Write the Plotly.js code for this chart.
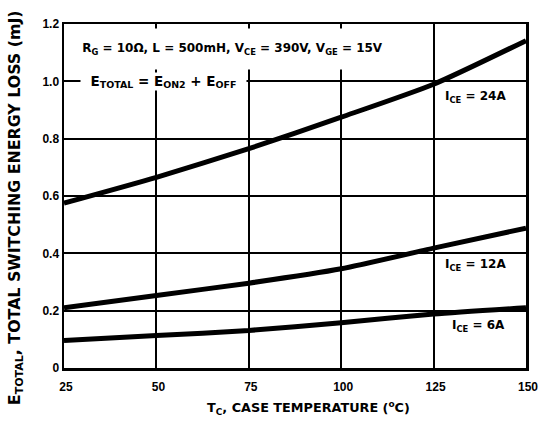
<!DOCTYPE html>
<html>
<head>
<meta charset="utf-8">
<script src="https://cdn.plot.ly/plotly-3.0.1.min.js"></script>
<style>html,body{margin:0;padding:0;background:#fff;}#chart{width:539px;height:423px;}</style>
</head>
<body>
<div id="chart"></div>
<script>
// Data
const tempC = [25, 50, 75, 100, 125, 150];
const ice24A = [0.575, 0.665, 0.765, 0.875, 0.990, 1.142];
const ice12A = [0.210, 0.253, 0.296, 0.346, 0.418, 0.488];
const ice6A  = [0.096, 0.113, 0.131, 0.158, 0.188, 0.210];
const seriesNames = ["I<sub>CE</sub> = 24A", "I<sub>CE</sub> = 12A", "I<sub>CE</sub> = 6A"];
const xTickVals = [25, 50, 75, 100, 125, 150];
const xTickText = ["25", "50", "75", "100", "125", "150"];
const yTickVals = [0, 0.2, 0.4, 0.6, 0.8, 1.0, 1.2];
const yTickText = ["0", "0.2", "0.4", "0.6", "0.8", "1.0", "1.2"];
const xTitle = "T<sub>C</sub>, CASE TEMPERATURE (<sup>o</sup>C)";
const yTitle = "E<sub>TOTAL</sub>, TOTAL SWITCHING ENERGY LOSS (mJ)";

const TICKFONT = "Liberation Sans, Arial, sans-serif";
const TEXTFONT = "DejaVu Sans, Liberation Sans, sans-serif";
const lineStyle = {color: "#000", width: 5, shape: "spline", smoothing: 0.6};

const traces = [ice24A, ice12A, ice6A].map((ys, i) => ({
  x: tempC, y: ys, type: "scatter", mode: "lines", name: seriesNames[i],
  line: lineStyle, hoverinfo: "skip"
}));

const tickBold = {family: TICKFONT, size: 12, color: "#000", weight: "bold"};
const textBold = {family: TEXTFONT, size: 12, color: "#000", weight: "bold"};

// paper-coordinate helpers for the 539x423 frame (plot area 64..525.7 x 24..367.7)
const px = v => (v - 64) / 461.7;
const py = v => (367.7 - v) / 343.7;

const layout = {
  width: 539, height: 423,
  margin: {l: 64, r: 13, t: 24, b: 55},
  paper_bgcolor: "#fff", plot_bgcolor: "#fff",
  showlegend: false,
  xaxis: {
    range: [25, 150], tickvals: xTickVals, ticktext: xTickText,
    showgrid: true, gridcolor: "#000", gridwidth: 2,
    showline: true, linecolor: "#000", linewidth: 2.5, mirror: true,
    ticks: "", zeroline: false, tickfont: tickBold, ticklabelstandoff: 6,
    ticklabelshift: 2, ticklabeloverflow: "allow"
  },
  yaxis: {
    range: [0, 1.2], tickvals: yTickVals, ticktext: yTickText,
    showgrid: true, gridcolor: "#000", gridwidth: 2,
    showline: true, linecolor: "#000", linewidth: 2.5, mirror: true,
    ticks: "", zeroline: false, tickfont: tickBold, ticklabelstandoff: 0
  },
  annotations: [
    {xref: "paper", yref: "paper", x: px(308), y: py(408), xanchor: "center", yanchor: "middle",
     text: xTitle, showarrow: false, font: {family: TEXTFONT, size: 12.8, color: "#000", weight: "bold"}},
    {xref: "paper", yref: "paper", x: px(15), y: py(207), xanchor: "center", yanchor: "middle",
     textangle: -90, text: yTitle, showarrow: false,
     font: {family: TEXTFONT, size: 15.8, color: "#000", weight: "bold"}},
    {xref: "paper", yref: "paper", x: px(78), y: py(28),
     xanchor: "left", yanchor: "top", width: 307, height: 40, align: "center", valign: "middle",
     text: "R<sub>G</sub> = 10Ω, L = 500mH, V<sub>CE</sub> = 390V, V<sub>GE</sub> = 15V",
     showarrow: false, bgcolor: "#fff", borderpad: 0, font: textBold},
    {xref: "paper", yref: "paper", x: px(80), y: py(72),
     xanchor: "left", yanchor: "top", width: 165, height: 17, align: "center", valign: "middle",
     text: "E<sub>TOTAL</sub> = E<sub>ON2</sub> + E<sub>OFF</sub>",
     showarrow: false, bgcolor: "#fff", borderpad: 0,
     font: {family: TEXTFONT, size: 13.5, color: "#000", weight: "bold"}},
    {x: 127.6, y: 0.945, xanchor: "left", yanchor: "middle", text: seriesNames[0], showarrow: false, font: textBold},
    {x: 127.6, y: 0.358, xanchor: "left", yanchor: "middle", text: seriesNames[1], showarrow: false, font: textBold},
    {x: 129.5, y: 0.145, xanchor: "left", yanchor: "middle", text: seriesNames[2], showarrow: false, font: textBold}
  ]
};

Plotly.newPlot("chart", traces, layout, {displayModeBar: false, staticPlot: true});
</script>
</body>
</html>
